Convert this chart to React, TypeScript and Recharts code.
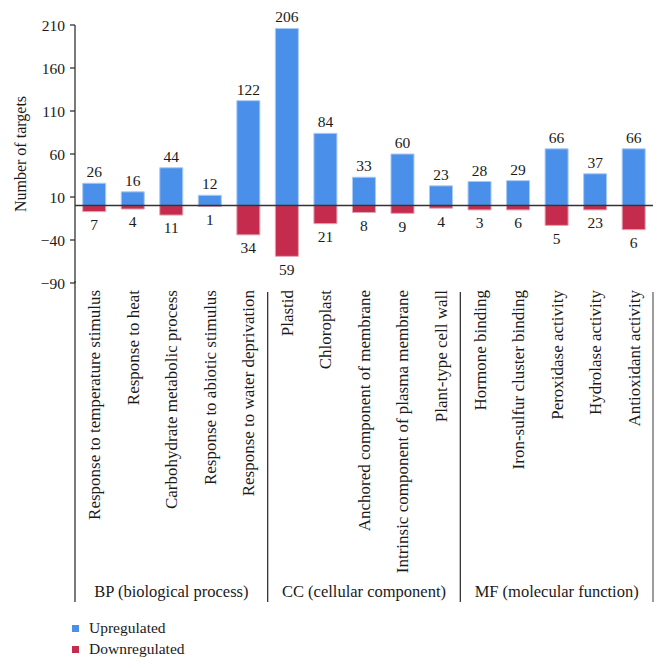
import React from 'react';
import { BarChart, Bar, XAxis, YAxis, ReferenceLine, LabelList } from 'recharts';

const categories = [
  'Response to temperature stimulus',
  'Response to heat',
  'Carbohydrate metabolic process',
  'Response to abiotic stimulus',
  'Response to water deprivation',
  'Plastid',
  'Chloroplast',
  'Anchored component of membrane',
  'Intrinsic component of plasma membrane',
  'Plant-type cell wall',
  'Hormone binding',
  'Iron-sulfur cluster binding',
  'Peroxidase activity',
  'Hydrolase activity',
  'Antioxidant activity',
];
const upValues = [26, 16, 44, 12, 122, 206, 84, 33, 60, 23, 28, 29, 66, 37, 66];
const downValues = [-7, -4, -11, -1, -34, -59, -21, -8, -9, -3, -5, -5, -23, -5, -28];
const downLabels = [7, 4, 11, 1, 34, 59, 21, 8, 9, 4, 3, 6, 5, 23, 6];
const groups = ['BP (biological process)', 'CC (cellular component)', 'MF (molecular function)'];
const groupSize = 5;
const yTicks = [-90, -40, 10, 60, 110, 160, 210];

const data = categories.map((name, i) => ({
  name,
  up: upValues[i],
  down: downValues[i],
  downLabel: downLabels[i],
}));

const FONT = '"Liberation Serif", "DejaVu Serif", serif';
const TEXT = '#1a1a1a';
const LINE = '#333';

const CategoryTick = (props: any) => {
  const { x, y, payload } = props;
  const i = categories.indexOf(payload.value);
  const half = payload.offset || 19.28;
  const top = y - 1;
  const lineTop = y + 1;
  const lineBottom = y + 311;
  const els: any[] = [];
  els.push(
    <text
      key="t"
      x={0}
      y={0}
      dy="0.35em"
      transform={`translate(${x},${top}) rotate(-90)`}
      textAnchor="end"
      fontSize={17}
      fontFamily={FONT}
      fill={TEXT}
    >
      {payload.value}
    </text>
  );
  if (i === 0) {
    els.push(<line key="l0" x1={x - half} x2={x - half} y1={y - 10} y2={lineBottom} stroke={LINE} strokeWidth={1.3} />);
  }
  if (i % groupSize === 0 && i > 0) {
    els.push(<line key="ls" x1={x - half} x2={x - half} y1={lineTop} y2={lineBottom} stroke={LINE} strokeWidth={1.3} />);
  }
  if (i === categories.length - 1) {
    els.push(<line key="lr" x1={x + half} x2={x + half} y1={lineTop} y2={lineBottom} stroke="#666" strokeWidth={1.3} />);
  }
  if (i % groupSize === Math.floor(groupSize / 2)) {
    els.push(
      <text key="g" x={x} y={y + 300} dy="0.35em" textAnchor="middle" fontSize={16.5} fontFamily={FONT} fill={TEXT}>
        {groups[Math.floor(i / groupSize)]}
      </text>
    );
  }
  return <g>{els}</g>;
};

const DownLabel = (props: any) => {
  const { x, y, width, height, value } = props;
  const bottom = Math.max(y, y + height);
  return (
    <text x={x + width / 2} y={bottom + 13} dy="0.35em" textAnchor="middle" fontSize={15.5} fontFamily={FONT} fill={TEXT}>
      {value}
    </text>
  );
};

const YLabel = (props: any) => {
  const vb = props.viewBox || { x: 0, y: 25, width: 75, height: 258 };
  const cy = vb.y + vb.height / 2;
  return (
    <text x={0} y={0} dy="0.35em" transform={`translate(20,${cy}) rotate(-90)`} textAnchor="middle" fontSize={16} fontFamily={FONT} fill={TEXT}>
      Number of targets
    </text>
  );
};

const legendItems = [
  { label: 'Upregulated', color: '#4A8FEA' },
  { label: 'Downregulated', color: '#C42B4C' },
];

export default function App() {
  return (
    <div style={{ position: 'absolute', left: 0, top: 0, width: 665, height: 668, background: '#fff' }}>
      <BarChart
        width={665}
        height={610}
        data={data}
        stackOffset="sign"
        barCategoryGap="20%"
        margin={{ top: 25, right: 12, bottom: 0, left: 0 }}
      >
        <XAxis
          dataKey="name"
          interval={0}
          axisLine={false}
          tickLine={false}
          height={327}
          tick={<CategoryTick />}
        />
        <YAxis
          width={75}
          domain={[-90, 210]}
          ticks={yTicks}
          allowDataOverflow
          tickSize={5}
          tickMargin={5}
          axisLine={{ stroke: LINE, strokeWidth: 1.3 }}
          tickLine={{ stroke: LINE, strokeWidth: 1.3 }}
          tick={{ fontSize: 15.5, fontFamily: FONT, fill: TEXT }}
          tickFormatter={(v: number) => (v < 0 ? '\u2212' + Math.abs(v) : String(v))}
          label={<YLabel />}
        />
        <Bar dataKey="up" stackId="a" fill="#4A8FEA" stroke="#A9CBF3" strokeWidth={1} isAnimationActive={false}>
          <LabelList dataKey="up" position="top" offset={6} fontSize={15.5} fontFamily={FONT} fill={TEXT} />
        </Bar>
        <Bar dataKey="down" stackId="a" fill="#C42B4C" stroke="#E4A2B1" strokeWidth={1} isAnimationActive={false}>
          <LabelList dataKey="downLabel" content={<DownLabel />} />
        </Bar>
        <ReferenceLine y={0} stroke={LINE} strokeWidth={1.5} />
      </BarChart>
      {legendItems.map((it, k) => (
        <div
          key={it.label}
          style={{
            position: 'absolute',
            left: 72,
            top: 618 + k * 21,
            height: 20,
            display: 'flex',
            alignItems: 'center',
            fontFamily: FONT,
            fontSize: 15.5,
            color: TEXT,
          }}
        >
          <span style={{ display: 'inline-block', width: 7, height: 7, background: it.color, marginRight: 10 }} />
          <span>{it.label}</span>
        </div>
      ))}
    </div>
  );
}
